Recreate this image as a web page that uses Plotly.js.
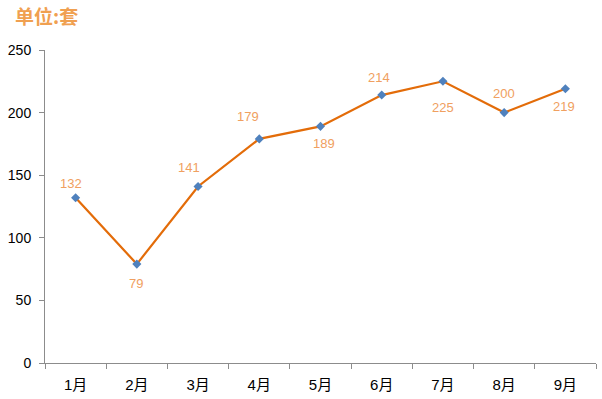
<!DOCTYPE html>
<html>
<head>
<meta charset="utf-8">
<script src="https://cdn.plot.ly/plotly-3.0.1.min.js"></script>
<style>html,body{margin:0;padding:0;background:#fff;}#chart{width:602px;height:399px;}</style>
</head>
<body>
<div id="chart"></div>
<script>
const months = ['1月','2月','3月','4月','5月','6月','7月','8月','9月'];
const sales = [132, 79, 141, 179, 189, 214, 225, 200, 219];
const yTicks = [0, 50, 100, 150, 200, 250];
const chartTitle = '单位:套';

// label offsets in pixels (style only)
const labelShiftX = [-5, -1, -9, -11, 3, -3, 0, 0, -1];
const labelShiftY = [14, -19, 19, 22, -17, 18, -26, 19, -18];

const trace = {
  x: months,
  y: sales,
  type: 'scatter',
  mode: 'lines+markers',
  line: {color: '#E36C09', width: 2.2},
  marker: {symbol: 'diamond', size: 7, color: '#4F81BD'},
  hoverinfo: 'skip'
};

const annotations = sales.map((v, i) => ({
  x: months[i], y: v, xref: 'x', yref: 'y',
  text: String(v), showarrow: false,
  xshift: labelShiftX[i], yshift: labelShiftY[i],
  font: {family: 'Liberation Sans, Arial, sans-serif', size: 13, color: '#F0A060'}
}));

const layout = {
  width: 602, height: 399,
  margin: {l: 45, r: 6, t: 50, b: 36},
  paper_bgcolor: '#fff', plot_bgcolor: '#fff',
  showlegend: false,
  title: {
    text: '<b>' + chartTitle + '</b>',
    xref: 'container', yref: 'container',
    x: 15/602, xanchor: 'left', y: 1 - 17/399, yanchor: 'middle',
    font: {family: 'Noto Sans CJK SC, sans-serif', size: 19, color: '#F0A050'}
  },
  xaxis: {
    type: 'category', range: [-0.5, 8.5],
    showline: true, linecolor: '#8C8C8C', linewidth: 1,
    ticks: 'outside', tickson: 'boundaries', ticklen: 5, tickcolor: '#8C8C8C',
    showgrid: false, zeroline: false, ticklabelstandoff: 8,
    tickfont: {family: 'Liberation Sans, Noto Sans CJK SC, sans-serif', size: 15, color: '#000'}
  },
  yaxis: {
    range: [0, 250], tickvals: yTicks, ticktext: yTicks.map(String),
    showline: true, linecolor: '#8C8C8C', linewidth: 1,
    ticks: 'outside', ticklen: 5, tickcolor: '#8C8C8C',
    showgrid: false, zeroline: false, ticklabelstandoff: 5,
    tickfont: {family: 'Liberation Sans, Arial, sans-serif', size: 14, color: '#000'}
  },
  annotations: annotations
};

Plotly.newPlot('chart', [trace], layout, {staticPlot: true, displayModeBar: false});
</script>
</body>
</html>
